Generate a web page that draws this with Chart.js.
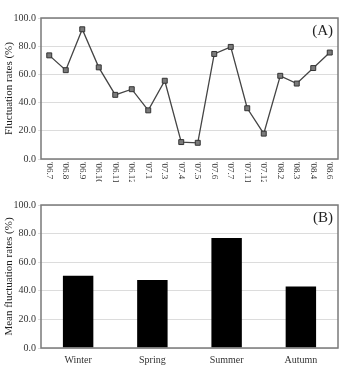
<!DOCTYPE html>
<html>
<head>
<meta charset="utf-8">
<script src="https://cdn.jsdelivr.net/npm/chart.js@4/dist/chart.umd.min.js"></script>
<style>
  html, body { margin: 0; padding: 0; background: #fff; }
  .box { position: absolute; left: 0; width: 344px; }
  #boxA { top: 0; height: 182px; }
  #boxB { top: 182px; height: 183px; }
</style>
</head>
<body>
<div id="boxA" class="box"><canvas id="chartA"></canvas></div>
<div id="boxB" class="box"><canvas id="chartB"></canvas></div>
<script>
// monthly fluctuation rates (panel A)
const months = ["'06.7", "'06.8", "'06.9", "'06.10", "'06.11", "'06.12", "'07.1", "'07.3", "'07.4",
                "'07.5", "'07.6", "'07.7", "'07.11", "'07.12", "'08.2", "'08.3", "'08.4", "'08.6"];
const monthlyRates = [73.5, 63, 92, 65, 45.5, 49.5, 34.5, 55.5, 12, 11.5, 74.5, 79.5, 36, 18, 59, 53.5, 64.5, 75.5];

// seasonal mean rates (panel B)
const seasons = ['Winter', 'Spring', 'Summer', 'Autumn'];
const seasonRates = [50.5, 47.5, 77, 43];

const yTicks = [0, 20, 40, 60, 80, 100];

const serif = '"Liberation Serif", "DejaVu Serif", serif';
Chart.defaults.font.family = serif;
Chart.defaults.color = '#333';
Chart.defaults.animation = false;

// frame round the plot area plus the panel letter
const framePlugin = {
  id: 'frame',
  afterDraw(chart, args, opts) {
    const { ctx, chartArea: a } = chart;
    ctx.save();
    ctx.strokeStyle = '#7a7a7a';
    ctx.lineWidth = 1.5;
    ctx.strokeRect(a.left, a.top, a.right - a.left, a.bottom - a.top);
    ctx.fillStyle = '#222';
    ctx.font = '15px ' + serif;
    ctx.textAlign = 'right';
    ctx.textBaseline = 'middle';
    ctx.fillText(opts.letter, a.right - 5, a.top + 13);
    ctx.restore();
  }
};

// x labels reading top to bottom (panel A)
const downLabels = {
  id: 'downLabels',
  afterDraw(chart) {
    if (chart.canvas.id !== 'chartA') return;
    const { ctx } = chart;
    const x = chart.scales.x;
    ctx.save();
    ctx.fillStyle = '#333';
    ctx.font = '9px ' + serif;
    ctx.textAlign = 'left';
    ctx.textBaseline = 'middle';
    months.forEach((m, i) => {
      ctx.save();
      ctx.translate(x.getPixelForValue(i), x.top + 3);
      ctx.rotate(Math.PI / 2);
      ctx.fillText(m, 0, 0);
      ctx.restore();
    });
    ctx.restore();
  }
};

function yScale(title) {
  return {
    min: 0, max: 100,
    afterBuildTicks: s => { s.ticks = yTicks.map(v => ({ value: v })); },
    afterFit: s => { s.width = 41; },
    ticks: { callback: v => v.toFixed(1), font: { size: 10 }, padding: 2, color: '#333' },
    grid: { color: '#dcdcdc', lineWidth: 1, tickLength: 3, drawTicks: true },
    border: { display: false },
    title: { display: true, text: title, font: { size: 11 }, color: '#222', padding: { top: 0, bottom: 0 } }
  };
}

new Chart(document.getElementById('chartA'), {
  type: 'line',
  data: {
    labels: months,
    datasets: [{
      data: monthlyRates,
      borderColor: '#444',
      borderWidth: 1.3,
      pointStyle: 'rect',
      pointRadius: 3.5,
      pointBackgroundColor: '#7a7a7a',
      pointBorderColor: '#333',
      pointBorderWidth: 1,
      tension: 0
    }]
  },
  options: {
    responsive: true,
    maintainAspectRatio: false,
    layout: { padding: { left: 3, right: 6, top: 18, bottom: 0 } },
    plugins: { legend: { display: false }, tooltip: { enabled: false }, frame: { letter: '(A)' } },
    scales: {
      x: {
        offset: true,
        ticks: { display: false },
        grid: { display: false, drawTicks: false },
        border: { display: false },
        afterFit: s => { s.height = 23; }
      },
      y: Object.assign(yScale('Fluctuation rates (%)'), { afterFit: s => { s.width = 38; } })
    }
  },
  plugins: [framePlugin, downLabels]
});

new Chart(document.getElementById('chartB'), {
  type: 'bar',
  data: {
    labels: seasons,
    datasets: [{
      data: seasonRates,
      backgroundColor: '#000',
      borderWidth: 0,
      barPercentage: 0.41,
      categoryPercentage: 1
    }]
  },
  options: {
    responsive: true,
    maintainAspectRatio: false,
    layout: { padding: { left: 3, right: 6, top: 23, bottom: 0 } },
    plugins: { legend: { display: false }, tooltip: { enabled: false }, frame: { letter: '(B)' } },
    scales: {
      x: {
        ticks: { font: { size: 10 }, color: '#333', padding: 6 },
        grid: { display: false, drawTicks: false, tickLength: 0 },
        border: { display: false },
        afterFit: s => { s.height = 17; }
      },
      y: Object.assign(yScale('Mean fluctuation rates (%)'), { afterFit: s => { s.width = 38; } })
    }
  },
  plugins: [framePlugin]
});
</script>
</body>
</html>
